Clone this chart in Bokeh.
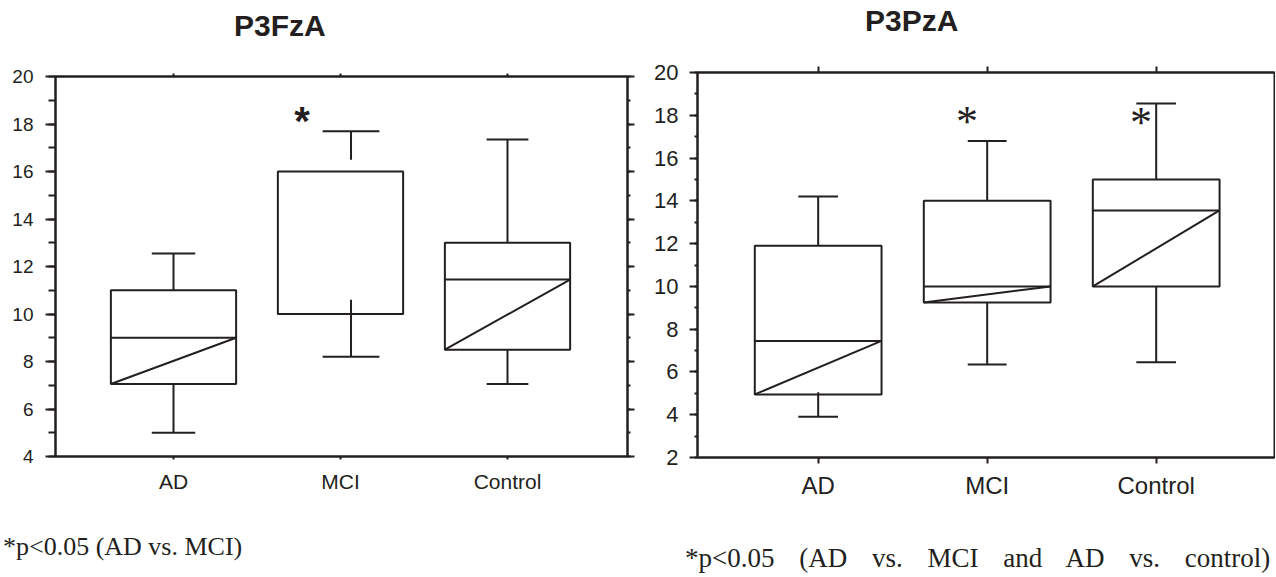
from bokeh.plotting import figure
from bokeh.models import Range1d, LinearAxis, FixedTicker, SingleIntervalTicker, Div
from bokeh.layouts import row, column
from bokeh.core.properties import value
from bokeh.embed import file_html
from bokeh.resources import INLINE

# ---------------- data ----------------
cats = ["AD", "MCI", "Control"]

# P3FzA (left panel)
fz_lo = [5.0, 8.2, 7.05]
fz_q1 = [7.05, 10.0, 8.5]
fz_med = [9.0, 10.0, 11.45]
fz_q3 = [11.0, 16.0, 13.0]
fz_hi = [12.55, 17.7, 17.35]
fz_wlo_end = [7.05, 10.6, 8.5]      # where the lower whisker stops
fz_whi_start = [11.0, 16.5, 13.0]   # where the upper whisker starts
fz_star_x = [1.77]
fz_star_y = [18.3]

# P3PzA (right panel)
pz_lo = [3.9, 6.35, 6.45]
pz_q1 = [4.95, 9.25, 10.0]
pz_med = [7.45, 10.0, 13.55]
pz_q3 = [11.9, 14.0, 15.0]
pz_hi = [14.2, 16.8, 18.55]
pz_wlo_end = [5.05, 9.25, 10.0]
pz_whi_start = [11.9, 14.0, 15.0]
pz_star_x = [1.88, 2.91]
pz_star_y = [17.88, 17.87]

titles = ["P3FzA", "P3PzA"]
captions = ["*p<0.05 (AD vs. MCI)", "*p<0.05 (AD vs. MCI and AD vs. control)"]

INK = "#231f20"
SANS = "Liberation Sans"
SERIF = "Liberation Serif"


def style_axis(ax, tick_out, minor_out=None):
    ax.axis_line_color = INK
    ax.axis_line_width = 2
    ax.major_tick_line_color = INK
    ax.major_tick_line_width = 2
    ax.major_tick_in = 0
    ax.major_tick_out = tick_out
    if minor_out is None:
        ax.minor_tick_line_color = None
    else:
        ax.minor_tick_line_color = INK
        ax.minor_tick_line_width = 2
        ax.minor_tick_in = 0
        ax.minor_tick_out = minor_out


def hide_labels(ax):
    ax.major_label_standoff = 0
    ax.major_label_text_font_size = "0px"
    ax.major_label_text_color = None


def panel(lo, q1, med, q3, hi, wlo_end, whi_start, star_x, star_y, cfg):
    xs = list(range(1, len(cats) + 1))
    p = figure(frame_width=cfg["fw"], frame_height=cfg["fh"],
               x_range=Range1d(*cfg["xr"]), y_range=Range1d(*cfg["yr"]),
               output_backend="svg", toolbar_location=None,
               x_axis_location=None, y_axis_location=None,
               min_border_left=cfg["bl"], min_border_right=cfg["br"],
               min_border_top=cfg["bt"], min_border_bottom=cfg["bb"])
    p.xgrid.visible = False
    p.ygrid.visible = False
    p.outline_line_color = INK
    p.outline_line_width = 2
    p.background_fill_color = "white"
    p.border_fill_color = "white"

    # left value axis
    la = LinearAxis(ticker=SingleIntervalTicker(interval=2, num_minor_ticks=2))
    style_axis(la, cfg["ymaj"], cfg["ymin"])
    la.major_label_standoff = cfg["ystand"]
    la.major_label_text_font = SANS
    la.major_label_text_font_size = cfg["yfs"]
    la.major_label_text_color = INK
    p.add_layout(la, "left")

    if cfg["right_ticks"]:
        ra = LinearAxis(ticker=SingleIntervalTicker(interval=2, num_minor_ticks=2))
        style_axis(ra, 7, 3)
        hide_labels(ra)
        p.add_layout(ra, "right")

    # bottom category axis
    ba = LinearAxis(ticker=FixedTicker(ticks=xs))
    ba.major_label_overrides = {x: c for x, c in zip(xs, cats)}
    style_axis(ba, cfg["xtick"])
    ba.major_label_standoff = cfg["xstand"]
    ba.major_label_text_font = SANS
    ba.major_label_text_font_size = cfg["xfs"]
    ba.major_label_text_color = INK
    p.add_layout(ba, "below")

    # top axis: ticks only
    ta = LinearAxis(ticker=FixedTicker(ticks=xs))
    style_axis(ta, cfg["xtick"])
    hide_labels(ta)
    p.add_layout(ta, "above")

    hw = cfg["box_w"] / 2
    left = [x - hw for x in xs]
    right = [x + hw for x in xs]
    p.quad(left=left, right=right, bottom=q1, top=q3, fill_color="white",
           line_color=INK, line_width=2)
    p.segment(x0=left, y0=med, x1=right, y1=med, line_color=INK, line_width=2)
    p.segment(x0=left, y0=q1, x1=right, y1=med, line_color=INK, line_width=2)
    wx = [x + d for x, d in zip(xs, cfg["wdx"])]
    p.segment(x0=wx, y0=whi_start, x1=wx, y1=hi, line_color=INK, line_width=2)
    p.segment(x0=wx, y0=lo, x1=wx, y1=wlo_end, line_color=INK, line_width=2)
    cl = [x - c / 2 for x, c in zip(wx, cfg["cap_w"])]
    cr = [x + c / 2 for x, c in zip(wx, cfg["cap_w"])]
    p.segment(x0=cl, y0=hi, x1=cr, y1=hi, line_color=INK, line_width=2)
    p.segment(x0=cl, y0=lo, x1=cr, y1=lo, line_color=INK, line_width=2)

    p.text(x=star_x, y=star_y, text=["*"] * len(star_x),
           text_font=value(cfg["star_font"]), text_font_size=cfg["star_fs"],
           text_font_style=cfg["star_style"], text_color=INK,
           text_align="center", text_baseline="alphabetic",
           y_offset=cfg["star_yoff"])
    return p


cfg_left = dict(fw=572, fh=380, xr=(0.2934, 3.7186), yr=(4, 20),
                bl=55, br=13, bt=28, bb=52,
                ymaj=10, ymin=7, ystand=12, yfs="19px",
                xtick=3, xstand=10, xfs="21px", right_ticks=True,
                box_w=0.75, cap_w=[0.26, 0.34, 0.25], wdx=[0, 0.063, 0],
                star_font=SANS, star_fs="40px", star_style="bold", star_yoff=4)

cfg_right = dict(fw=577, fh=385, xr=(0.286, 3.700), yr=(2, 20),
                 bl=57, br=1, bt=28, bb=51,
                 ymaj=8, ymin=3, ystand=11, yfs="22px",
                 xtick=6, xstand=8, xfs="24px", right_ticks=False,
                 box_w=0.75, cap_w=[0.235, 0.23, 0.235], wdx=[0, 0, 0],
                 star_font=SERIF, star_fs="44px", star_style="normal", star_yoff=4)

p1 = panel(fz_lo, fz_q1, fz_med, fz_q3, fz_hi, fz_wlo_end, fz_whi_start,
           fz_star_x, fz_star_y, cfg_left)
p2 = panel(pz_lo, pz_q1, pz_med, pz_q3, pz_hi, pz_wlo_end, pz_whi_start,
           pz_star_x, pz_star_y, cfg_right)


def esc(s):
    return s.replace("&", "&amp;").replace("<", "&lt;").replace(">", "&gt;")


t1 = Div(text=('<div style="font-family:\'Liberation Sans\';font-weight:bold;font-size:30px;'
               'color:#231f20;line-height:1;white-space:nowrap;padding-left:234px;'
               'padding-top:11px">' + esc(titles[0]) + '</div>'),
         width=640, height=48, margin=0)
t2 = Div(text=('<div style="font-family:\'Liberation Sans\';font-weight:bold;font-size:30px;'
               'color:#231f20;line-height:1;white-space:nowrap;padding-left:225px;'
               'padding-top:6px">' + esc(titles[1]) + '</div>'),
         width=635, height=44, margin=0)

d1 = Div(text=('<div style="font-family:\'Liberation Serif\';font-size:26px;color:#231f20;'
               'white-space:nowrap;line-height:1;padding-left:3px;padding-top:26px;'
               'height:68px;box-sizing:border-box;overflow:hidden">' + esc(captions[0]) + '</div>'),
         width=640, height=68, margin=0)
d2 = Div(text=('<div style="font-family:\'Liberation Serif\';font-size:27px;color:#231f20;'
               'white-space:nowrap;line-height:1;padding-left:45px;padding-top:37px;'
               'word-spacing:18px;width:635px;height:68px;box-sizing:border-box;'
               'overflow:hidden">' + esc(captions[1]) + '</div>'),
         width=635, height=68, margin=0)

layout = row(column(t1, p1, d1, spacing=0), column(t2, p2, d2, spacing=0), spacing=0)

open("out.html", "w").write(file_html(layout, INLINE))
